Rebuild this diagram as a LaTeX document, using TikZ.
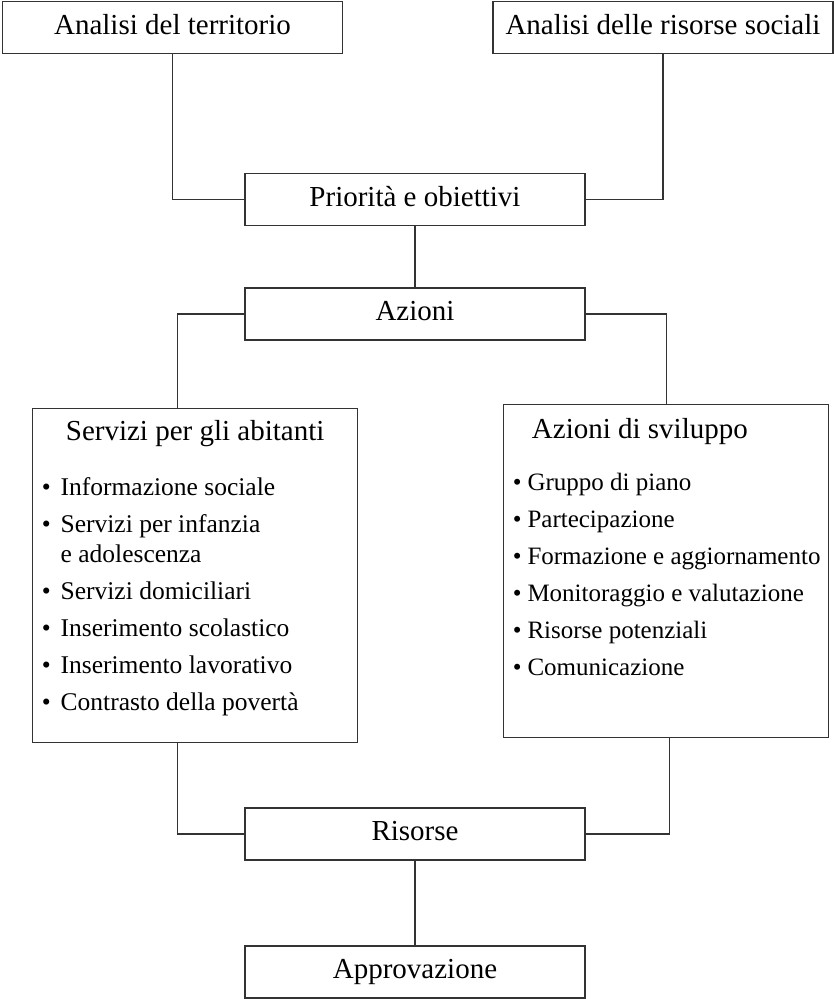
\documentclass[tikz,border=0pt]{standalone}
\usepackage{fontspec}
\setmainfont{Liberation Serif}
\usepackage{tikz}

\newcommand{\voce}[2][9.8pt]{\mbox{\textbullet\hspace{#1}#2}}

\tikzset{
  flowbox/.style = {draw = black!80, line width = 1.3pt, minimum width = 340pt,
                    minimum height = 52pt, inner sep = 0pt, text height = 20pt,
                    text depth = 6pt, font = \fontsize{29pt}{30pt}\selectfont},
  listbox/.style = {draw = black!80, line width = 1.3pt, inner xsep = 9.3pt,
                    inner ysep = 10pt, anchor = north west},
  link/.style    = {draw = black!80, line width = 1.2pt}
}

\begin{document}
\begin{tikzpicture}[x=1pt,y=1pt]

\useasboundingbox (0,0) rectangle (834,999);

\node[flowbox] (territorio) at (172.5,971.5) {Analisi del territorio};
\node[flowbox] (risociali)  at (663,971.5)   {Analisi delle risorse sociali};
\node[flowbox] (priorita)   at (415,799.5)   {Priorità e obiettivi};
\node[flowbox] (azioni)     at (415,685)     {Azioni};

\node[listbox] (servizi) at (32,591) {%
  \begin{minipage}[t][314pt][t]{306.4pt}
    \hfuzz=12pt
    {\fontsize{29pt}{30pt}\selectfont\centering\rule{0pt}{22pt}Servizi per gli abitanti\par}
    \vspace{25pt}
    \fontsize{25.5pt}{30pt}\selectfont
    \voce{Informazione sociale}\\[7pt]
    \voce{Servizi per infanzia}\\
    \phantom{\voce{}}e adolescenza\\[7pt]
    \voce{Servizi domiciliari}\\[7pt]
    \voce{Inserimento scolastico}\\[7pt]
    \voce{Inserimento lavorativo}\\[7pt]
    \voce{Contrasto della povertà}
  \end{minipage}};

\node[listbox] (sviluppo) at (503,595) {%
  \begin{minipage}[t][313pt][t]{306.4pt}
    \hfuzz=12pt
    {\fontsize{29pt}{30pt}\selectfont\rule{0pt}{24pt}\hspace*{19pt}Azioni di sviluppo\par}
    \vspace{22pt}
    \fontsize{25pt}{30pt}\selectfont
    \voce[5.8pt]{Gruppo di piano}\\[7pt]
    \voce[5.8pt]{Partecipazione}\\[7pt]
    \voce[5.8pt]{Formazione e aggiornamento}\\[7pt]
    \voce[5.8pt]{Monitoraggio e valutazione}\\[7pt]
    \voce[5.8pt]{Risorse potenziali}\\[7pt]
    \voce[5.8pt]{Comunicazione}
  \end{minipage}};

\node[flowbox] (risorse)      at (415,165) {Risorse};
\node[flowbox] (approvazione) at (415,27)  {Approvazione};

\draw[link] (territorio.south) |- (priorita.west);
\draw[link] (risociali.south) |- (priorita.east);
\draw[link] (priorita.south) -- (azioni.north);
\draw[link] (azioni.west) -| ([xshift=-17.5pt]servizi.north);
\draw[link] (azioni.east) -| (sviluppo.north);
\draw[link] ([xshift=-17.5pt]servizi.south) |- (risorse.west);
\draw[link] ([xshift=3pt]sviluppo.south) |- (risorse.east);
\draw[link] (risorse.south) -- (approvazione.north);

\end{tikzpicture}
\end{document}
